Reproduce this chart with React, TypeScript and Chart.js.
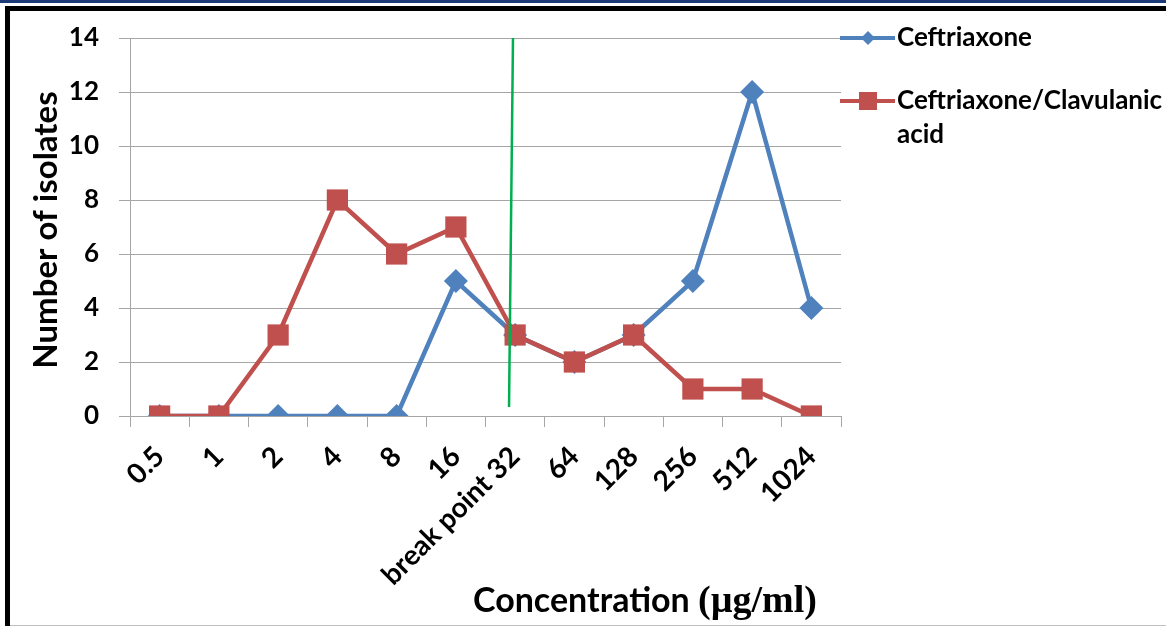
import React, { useEffect, useRef } from 'react';
import { Chart, registerables } from 'chart.js';

Chart.register(...registerables);

const categories = ['0.5', '1', '2', '4', '8', '16', 'break point 32', '64', '128', '256', '512', '1024'];
const ceftriaxone = [0, 0, 0, 0, 0, 5, 3, 2, 3, 5, 12, 4];
const ceftriaxoneClavulanic = [0, 0, 3, 8, 6, 7, 3, 2, 3, 1, 1, 0];
const breakPointLine = [
  { x: 5.964, y: 14 },
  { x: 5.897, y: 0.33 },
];
const seriesNames = ['Ceftriaxone', 'Ceftriaxone/Clavulanic acid'];
const yTitle = 'Number of isolates';
const xTitleMain = 'Concentration ';
const xTitleUnit = '(µg/ml)';

const BLUE = '#4f81bd';
const RED = '#c0504d';
const GREEN = '#00b050';
const GRID = '#a6a6a6';
const SANS = 'Lato, "Open Sans", sans-serif';
const SERIF = '"Liberation Serif", "DejaVu Serif", serif';

const overlayPlugin = {
  id: 'overlay',
  afterDraw(chart: any) {
    const ctx = chart.ctx as CanvasRenderingContext2D;
    ctx.save();
    // y title
    ctx.fillStyle = '#000';
    ctx.font = `bold 33px ${SANS}`;
    ctx.textAlign = 'center';
    ctx.textBaseline = 'middle';
    ctx.translate(46, 230);
    ctx.rotate(-Math.PI / 2);
    ctx.fillText(yTitle, 0, 0);
    ctx.setTransform(chart.currentDevicePixelRatio, 0, 0, chart.currentDevicePixelRatio, 0, 0);

    // x title
    ctx.textAlign = 'left';
    ctx.textBaseline = 'alphabetic';
    ctx.font = `bold 34px ${SANS}`;
    const w1 = ctx.measureText(xTitleMain).width;
    ctx.font = `bold 38px ${SERIF}`;
    const w2 = ctx.measureText(xTitleUnit).width;
    const startX = 645 - (w1 + w2) / 2;
    ctx.font = `bold 34px ${SANS}`;
    ctx.fillText(xTitleMain, startX, 612);
    ctx.font = `bold 38px ${SERIF}`;
    ctx.fillText(xTitleUnit, startX + w1, 612);

    // legend
    const items = [
      { name: seriesNames[0], color: BLUE, style: 'diamond', y: 38 },
      { name: seriesNames[1], color: RED, style: 'square', y: 101 },
    ];
    ctx.font = `bold 26px ${SANS}`;
    ctx.textBaseline = 'middle';
    const maxW = 1166 - 897;
    for (const it of items) {
      ctx.strokeStyle = it.color;
      ctx.lineWidth = 4;
      ctx.beginPath();
      ctx.moveTo(840, it.y);
      ctx.lineTo(895, it.y);
      ctx.stroke();
      ctx.fillStyle = it.color;
      ctx.beginPath();
      if (it.style === 'diamond') {
        const r = 7;
        ctx.moveTo(868, it.y - r);
        ctx.lineTo(868 + r, it.y);
        ctx.lineTo(868, it.y + r);
        ctx.lineTo(868 - r, it.y);
        ctx.closePath();
      } else {
        ctx.rect(868 - 9, it.y - 9, 18, 18);
      }
      ctx.fill();
      // wrap
      const words = it.name.split(' ');
      const lines: string[] = [];
      let cur = '';
      for (const w of words) {
        const t = cur ? cur + ' ' + w : w;
        if (ctx.measureText(t).width > maxW && cur) {
          lines.push(cur);
          cur = w;
        } else cur = t;
      }
      if (cur) lines.push(cur);
      ctx.fillStyle = '#000';
      lines.forEach((ln, i) => ctx.fillText(ln, 897, it.y + i * 34));
    }
    ctx.restore();
  },
};

export default function App() {
  const ref = useRef<HTMLCanvasElement>(null);
  useEffect(() => {
    document.body.style.margin = '0';
    const chart = new Chart(ref.current!, {
      type: 'line',
      data: {
        labels: categories,
        datasets: [
          {
            label: 'break point',
            data: breakPointLine as any,
            xAxisID: 'x2',
            borderColor: GREEN,
            borderWidth: 2.5,
            pointRadius: 0,
            order: 0,
          },
          {
            label: seriesNames[1],
            data: ceftriaxoneClavulanic,
            borderColor: RED,
            backgroundColor: RED,
            borderWidth: 4.5,
            pointStyle: 'rect',
            pointRadius: 15,
            pointBorderWidth: 0,
            order: 1,
          },
          {
            label: seriesNames[0],
            data: ceftriaxone,
            borderColor: BLUE,
            backgroundColor: BLUE,
            borderWidth: 4.5,
            pointStyle: 'rectRot',
            pointRadius: 12,
            pointBorderWidth: 0,
            order: 2,
          },
        ],
      },
      options: {
        animation: false,
        responsive: false,
        devicePixelRatio: 1,
        layout: { padding: { left: 0, right: 325, top: 38, bottom: 0 } },
        plugins: { legend: { display: false }, tooltip: { enabled: false } },
        scales: {
          x: {
            type: 'category',
            offset: true,
            grid: { display: true, drawOnChartArea: false, drawTicks: true, tickLength: 11, color: GRID, offset: true },
            border: { display: true, color: GRID },
            ticks: {
              autoSkip: false,
              maxRotation: 45,
              minRotation: 45,
              padding: 13,
              color: '#000',
              font: { family: SANS, size: 28, weight: 'bold' },
            },
            afterFit: (s: any) => {
              s.height = 210;
            },
          },
          x2: { type: 'linear', display: false, min: -0.5, max: 11.5 },
          y: {
            min: 0,
            max: 14,
            ticks: {
              stepSize: 2,
              padding: 20,
              color: '#000',
              font: { family: SANS, size: 26, weight: 'bold' },
            },
            grid: { color: GRID, tickLength: 11 },
            border: { display: true, color: GRID },
            afterFit: (s: any) => {
              s.width = 130;
            },
          },
        },
      },
      plugins: [overlayPlugin],
    });
    return () => chart.destroy();
  }, []);

  return (
    <div style={{ position: 'relative', width: 1166, height: 626, background: '#fff', overflow: 'hidden', fontFamily: SANS }}>
      <div style={{ position: 'absolute', left: 0, top: 0, width: 1166, height: 3, background: '#1c3a78' }} />
      <div style={{ position: 'absolute', left: 5, top: 6, right: 0, height: 5, background: '#000' }} />
      <div style={{ position: 'absolute', left: 5, top: 6, width: 5, bottom: 0, background: '#000' }} />
      <div style={{ position: 'absolute', left: 10, top: 625, right: 0, height: 1, background: '#c0c0c0' }} />
      <canvas ref={ref} width={1166} height={626} style={{ position: 'absolute', left: 0, top: 0, width: 1166, height: 626 }} />
    </div>
  );
}
